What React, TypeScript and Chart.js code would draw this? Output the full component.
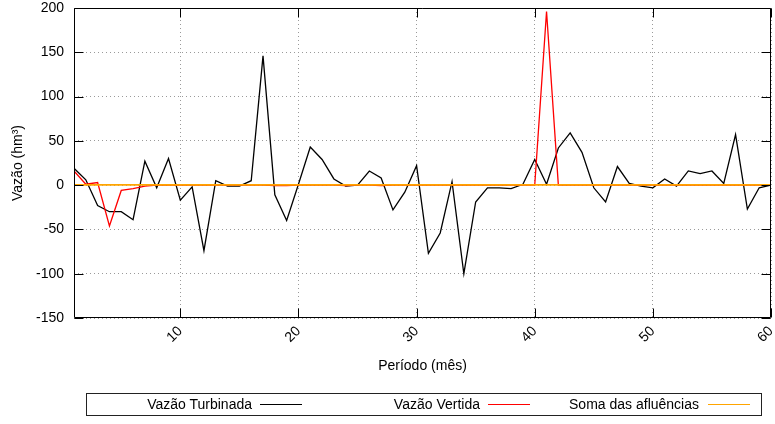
import React, { useEffect, useRef } from 'react';
import { Chart, registerables } from 'chart.js';

Chart.register(...registerables);

// ---- data ----
const months = [
  1, 2, 3, 4, 5, 6, 7, 8, 9, 10, 11, 12, 13, 14, 15, 16, 17, 18, 19, 20,
  21, 22, 23, 24, 25, 26, 27, 28, 29, 30, 31, 32, 33, 34, 35, 36, 37, 38, 39, 40,
  41, 42, 43, 44, 45, 46, 47, 48, 49, 50, 51, 52, 53, 54, 55, 56, 57, 58, 59, 60,
];
const vazaoTurbinada = [
  19, 6, -23, -30, -30, -39, 27, -3, 30, -17, -2, -74, 5, -1, -1, 5, 146, -11, -40, 1,
  43, 29, 7, -1, 0, 16, 8, -28, -8, 22, -77, -54, 4, -100, -19, -3, -3, -4, 1, 29,
  1, 42, 59, 37, -3, -19, 21, 2, -1, -3, 7, -1, 16, 13, 16, 2, 57, -27, -3, 0,
];
const vazaoVertida = [
  16, 1, 3, -46, -6, -4, -1, 0, 0, 0, 0, 0, 0, 0, 0, 0, 0, -0.5, -0.5, 0,
  0, 0, 0, -0.5, 0, 0, -0.5, 0, 0, 0, 0, 0, 0, 0, 0, 0, 0, 0, 0, 0,
  196, 0, 0, 0, 0, 0, 0, 0, 0, 0, 0, 0, 0, 0, 0, 0, 0, 0, 0, 0,
];
const somaAfluencias = [
  0.3, 0.3, 0.3, 0.3, 0.3, 0.3, 0.3, 0.3, 0.3, 0.3, 0.3, 0.3, 0.3, 0.3, 0.3, 0.3, 0.3, 0.3, 0.3, 0.3,
  0.3, 0.3, 0.3, 0.3, 0.3, 0.3, 0.3, 0.3, 0.3, 0.3, 0.3, 0.3, 0.3, 0.3, 0.3, 0.3, 0.3, 0.3, 0.3, 0.3,
  0.3, 0.3, 0.3, 0.3, 0.3, 0.3, 0.3, 0.3, 0.3, 0.3, 0.3, 0.3, 0.3, 0.3, 0.3, 0.3, 0.3, 0.3, 0.3, 0.3,
];
const xTickValues = [10, 20, 30, 40, 50, 60];
const yTickValues = [-150, -100, -50, 0, 50, 100, 150, 200];
const seriesLabels = ['Vazão Turbinada', 'Vazão Vertida', 'Soma das afluências'];
const seriesColors = ['#000000', '#ff0000', '#ffa500'];
const xTitle = 'Período (mês)';
const yTitle = 'Vazão (hm³)';

const FONT = '"Liberation Sans", Arial, Helvetica, sans-serif';

const framePlugin = {
  id: 'frame',
  afterDraw(chart: any) {
    const { ctx, chartArea: a, scales } = chart;
    const L = Math.round(a.left) + 0.5;
    const R = Math.round(a.right) - 0.5;
    const T = Math.round(a.top) + 0.5;
    const B = Math.round(a.bottom) - 0.5;
    ctx.save();
    ctx.strokeStyle = '#000';
    ctx.lineWidth = 1;
    ctx.beginPath();
    ctx.rect(L, T, R - L, B - T);
    const tl = 9;
    for (const v of yTickValues) {
      const y = Math.round(scales.y.getPixelForValue(v)) + 0.5;
      ctx.moveTo(L, y);
      ctx.lineTo(L + tl, y);
      ctx.moveTo(R, y);
      ctx.lineTo(R - tl, y);
    }
    for (const v of xTickValues) {
      const x = Math.round(scales.x.getPixelForValue(v)) + 0.5;
      ctx.moveTo(x, B);
      ctx.lineTo(x, B - tl);
      ctx.moveTo(x, T);
      ctx.lineTo(x, T + tl);
    }
    ctx.stroke();
    ctx.restore();
  },
};

function ChartCanvas() {
  const ref = useRef<HTMLCanvasElement | null>(null);
  useEffect(() => {
    if (!ref.current) return;
    const seriesData = [vazaoTurbinada, vazaoVertida, somaAfluencias];
    const chart = new Chart(ref.current, {
      type: 'line',
      data: {
        datasets: seriesData.map((vals, i) => ({
          label: seriesLabels[i],
          data: months.map((m, j) => ({ x: m, y: vals[j] })),
          borderColor: seriesColors[i],
          backgroundColor: seriesColors[i],
          borderWidth: i === 2 ? 1.8 : 1.3,
          pointRadius: 0,
          tension: 0,
          fill: false,
          order: 2 - i,
        })),
      },
      options: {
        responsive: false,
        animation: false,
        events: [],
        layout: { padding: { left: 0, right: 4, top: 8, bottom: 44 } },
        plugins: { legend: { display: false }, tooltip: { enabled: false } },
        scales: {
          x: {
            type: 'linear',
            min: 1,
            max: 60,
            afterBuildTicks: (scale: any) => {
              scale.ticks = xTickValues.map((v) => ({ value: v }));
            },
            afterFit: (scale: any) => {
              scale.height = 62;
              scale.paddingLeft = 0;
              scale.paddingRight = 0;
            },
            grid: { color: '#9a9a9a', lineWidth: 1, drawTicks: false },
            border: { display: false, dash: [1, 3] },
            ticks: {
              color: '#000',
              font: { family: FONT, size: 14 },
              minRotation: 45,
              maxRotation: 45,
              padding: 5,
              autoSkip: false,
            },
            title: {
              display: true,
              text: xTitle,
              color: '#000',
              font: { family: FONT, size: 14 },
              padding: { top: 0, bottom: 5 },
            },
          },
          y: {
            type: 'linear',
            min: -150,
            max: 200,
            afterBuildTicks: (scale: any) => {
              scale.ticks = yTickValues.map((v) => ({ value: v }));
            },
            afterFit: (scale: any) => {
              scale.width = 74;
              scale.paddingTop = 0;
              scale.paddingBottom = 0;
            },
            grid: { color: '#9a9a9a', lineWidth: 1, drawTicks: false },
            border: { display: false, dash: [1, 3] },
            ticks: {
              color: '#000',
              font: { family: FONT, size: 14 },
              padding: 10,
            },
            title: {
              display: true,
              text: yTitle,
              color: '#000',
              font: { family: FONT, size: 14 },
              padding: { top: 10, bottom: 0 },
            },
          },
        },
      },
      plugins: [framePlugin],
    } as any);
    return () => chart.destroy();
  }, []);
  return <canvas ref={ref} width={775} height={424} style={{ display: 'block' }} />;
}

const legendItems = [
  { textRight: 252, lineLeft: 260 },
  { textRight: 480, lineLeft: 488 },
  { textRight: 699, lineLeft: 708 },
];

export default function App() {
  return (
    <div style={{ position: 'absolute', left: 0, top: 0, width: 775, height: 424, background: '#fff' }}>
      <ChartCanvas />
      <div
        style={{
          position: 'absolute',
          left: 86,
          top: 393,
          width: 676,
          height: 23,
          border: '1px solid #222',
          boxSizing: 'border-box',
        }}
      />
      {legendItems.map((it, i) => (
        <React.Fragment key={i}>
          <div
            style={{
              position: 'absolute',
              left: it.textRight - 200,
              width: 200,
              top: 395,
              height: 19,
              lineHeight: '19px',
              textAlign: 'right',
              fontFamily: FONT,
              fontSize: 14,
              color: '#000',
              whiteSpace: 'nowrap',
            }}
          >
            {seriesLabels[i]}
          </div>
          <div
            style={{
              position: 'absolute',
              left: it.lineLeft,
              top: 404,
              width: 42,
              height: 0,
              borderTop: `${i === 2 ? 1.5 : 1.3}px solid ${seriesColors[i]}`,
            }}
          />
        </React.Fragment>
      ))}
    </div>
  );
}
